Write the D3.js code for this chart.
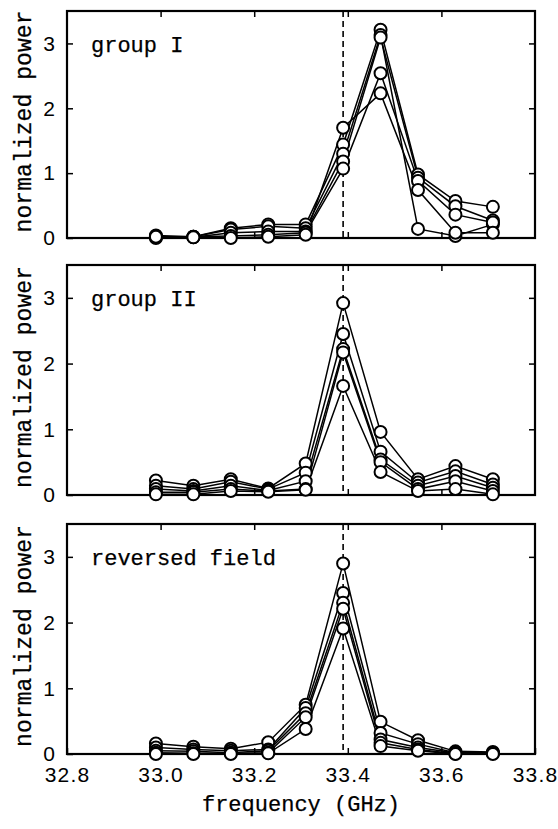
<!DOCTYPE html>
<html>
<head>
<meta charset="utf-8">
<script src="https://cdn.jsdelivr.net/npm/d3@7"></script>
<style>
body { margin: 0; background: #fff; }
svg { display: block; }
</style>
</head>
<body>
<svg id="chart" width="558" height="829"></svg>
<script>
// frequency of each measured point (GHz)
var freq = [32.99, 33.07, 33.15, 33.23, 33.31, 33.39, 33.47, 33.55, 33.63, 33.71];
var xTicks = [32.8, 33.0, 33.2, 33.4, 33.6, 33.8];
var yTicks = [0, 1, 2, 3];
var refFreq = 33.39;
var panelNames = ["group I", "group II", "reversed field"];

// group I : five runs
var groupI = [
	[0.04, 0.02, 0.15, 0.21, 0.21, 1.44, 3.21, 0.98, 0.57, 0.48],
	[0.02, 0.02, 0.13, 0.18, 0.15, 1.30, 3.13, 0.14, 0.03, 0.21],
	[0.01, 0.01, 0.08, 0.10, 0.10, 1.18, 3.09, 0.93, 0.49, 0.27],
	[0.00, 0.02, 0.03, 0.05, 0.08, 1.07, 2.54, 0.88, 0.36, 0.24],
	[0.02, 0.01, 0.00, 0.02, 0.05, 1.70, 2.23, 0.74, 0.08, 0.08]
];
// group II
var groupII = [
	[0.22, 0.14, 0.24, 0.10, 0.48, 2.92, 0.96, 0.24, 0.44, 0.24],
	[0.14, 0.09, 0.20, 0.09, 0.34, 2.45, 0.66, 0.19, 0.36, 0.16],
	[0.09, 0.06, 0.14, 0.07, 0.21, 2.22, 0.54, 0.14, 0.29, 0.11],
	[0.04, 0.04, 0.09, 0.06, 0.09, 2.17, 0.50, 0.09, 0.21, 0.06],
	[0.01, 0.01, 0.06, 0.05, 0.08, 1.66, 0.35, 0.06, 0.09, 0.01]
];
// reversed field
var reversed = [
	[0.16, 0.11, 0.08, 0.18, 0.75, 2.90, 0.49, 0.21, 0.04, 0.03],
	[0.10, 0.07, 0.05, 0.07, 0.70, 2.45, 0.32, 0.15, 0.02, 0.02],
	[0.05, 0.04, 0.02, 0.05, 0.62, 2.30, 0.22, 0.10, 0.015, 0.01],
	[0.02, 0.01, 0.01, 0.02, 0.56, 2.21, 0.17, 0.07, 0.005, 0.01],
	[0.00, 0.00, 0.00, 0.01, 0.38, 1.91, 0.12, 0.05, 0.00, 0.00]
];
var panelData = [groupI, groupII, reversed];

var left = 67, right = 535;
var panelTop = [11, 265, 524];
var panelBottom = [238, 495, 754];
var monoFont = "'Liberation Mono', 'DejaVu Sans Mono', monospace";
var numFont = "'Liberation Sans', Arial, sans-serif";

var svg = d3.select("#chart");
var x = d3.scaleLinear().domain([32.8, 33.8]).range([left, right]);

function drawPanel(p)
{
	var y0 = panelTop[p], y1 = panelBottom[p];
	var y = d3.scaleLinear().domain([0, 3.5]).range([y1, y0]);
	var g = svg.append("g");

	// inward ticks on all four sides
	g.append("g").attr("transform", "translate(" + left + ",0)")
		.call(d3.axisLeft(y).tickValues(yTicks).tickSize(-6).tickPadding(12).tickFormat(d3.format("d")))
		.call(function(a){ a.select(".domain").remove(); });
	g.append("g").attr("transform", "translate(" + right + ",0)")
		.call(d3.axisRight(y).tickValues(yTicks.slice(1)).tickSize(-6).tickFormat(""))
		.call(function(a){ a.select(".domain").remove(); });
	g.append("g").attr("transform", "translate(0," + y0 + ")")
		.call(d3.axisTop(x).tickValues(xTicks.slice(1, 5)).tickSize(-6).tickFormat(""))
		.call(function(a){ a.select(".domain").remove(); });
	var bx = g.append("g").attr("transform", "translate(0," + y1 + ")")
		.call(d3.axisBottom(x).tickValues(p == 2 ? xTicks : xTicks.slice(1, 5)).tickSize(-6).tickPadding(13)
			.tickFormat(p == 2 ? d3.format(".1f") : ""))
		.call(function(a){ a.select(".domain").remove(); });

	g.selectAll(".tick line").attr("stroke", "#000").attr("stroke-width", 1.5);
	g.selectAll(".tick text").attr("fill", "#000").attr("font-family", numFont).attr("font-size", 21);
	bx.selectAll(".tick text").attr("letter-spacing", 1.2);

	// frame
	g.append("rect").attr("x", left).attr("y", y0).attr("width", right - left).attr("height", y1 - y0)
		.attr("fill", "none").attr("stroke", "#000").attr("stroke-width", 2.2);

	// reference frequency
	g.append("line").attr("x1", x(refFreq)).attr("x2", x(refFreq)).attr("y1", y0).attr("y2", y1)
		.attr("stroke", "#000").attr("stroke-width", 1.6).attr("stroke-dasharray", "6,4");

	var line = d3.line().x(function(d, i){ return x(freq[i]); }).y(function(d){ return y(d); });
	g.selectAll("path.run").data(panelData[p]).enter().append("path").attr("class", "run")
		.attr("d", line).attr("fill", "none").attr("stroke", "#000").attr("stroke-width", 1.5);

	panelData[p].forEach(function(run) {
		g.selectAll(null).data(run).enter().append("circle")
			.attr("cx", function(d, i){ return x(freq[i]); })
			.attr("cy", function(d){ return y(d); })
			.attr("r", 6).attr("fill", "#fff").attr("stroke", "#000").attr("stroke-width", 2);
	});

	g.append("text").text(panelNames[p]).attr("x", 91).attr("y", y0 + 41)
		.attr("font-family", monoFont).attr("font-size", 22).attr("fill", "#000")
		.attr("stroke", "#000").attr("stroke-width", 0.25);

	g.append("text").text("normalized power")
		.attr("transform", "translate(31," + ((y0 + y1) / 2 - 3) + ") rotate(-90)")
		.attr("text-anchor", "middle").attr("font-family", monoFont).attr("font-size", 23)
		.attr("textLength", 222).attr("fill", "#000")
		.attr("stroke", "#000").attr("stroke-width", 0.25);
}

for (var p = 0; p < 3; p++) drawPanel(p);

svg.append("text").text("frequency (GHz)").attr("x", (left + right) / 2).attr("y", 811)
	.attr("text-anchor", "middle").attr("font-family", monoFont).attr("font-size", 22).attr("fill", "#000")
	.attr("stroke", "#000").attr("stroke-width", 0.25);
</script>
</body>
</html>
